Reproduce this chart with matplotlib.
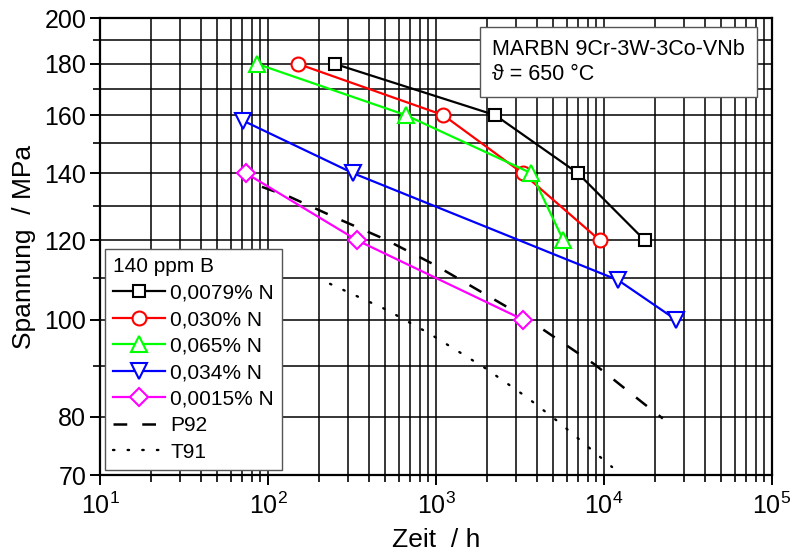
import numpy as np
import matplotlib
matplotlib.use("Agg")
import matplotlib.pyplot as plt
from matplotlib.ticker import FixedLocator, NullFormatter, FixedFormatter

plt.rcParams['font.family'] = ['Liberation Sans', 'DejaVu Sans']
plt.rcParams['mathtext.fontset'] = 'custom'
plt.rcParams['mathtext.rm'] = 'Liberation Sans'

# stress levels (MPa) and times to rupture (h)
x_0079 = [250, 2250, 7000, 17500]
y_0079 = [180, 160, 140, 120]
x_030 = [151, 1105, 3280, 9460]
y_030 = [180, 160, 140, 120]
x_065 = [86, 661, 3700, 5730]
y_065 = [180, 160, 140, 120]
x_034 = [71, 322, 12160, 26840]
y_034 = [158, 140, 109.5, 100]
x_0015 = [74, 340, 3310]
y_0015 = [140, 120, 100]

# reference curves
x_p92 = [92, 135, 256, 497, 986, 3470, 8840, 17060, 22400]
y_p92 = [135.7, 132.6, 126.3, 120.3, 113.4, 100.3, 90.2, 82.6, 79.7]
x_t91 = [234, 509, 921, 1960, 3470, 5350, 11170]
y_t91 = [108.6, 102.3, 96.8, 89.5, 83.7, 79.1, 71.3]

labels = ['0,0079% N', '0,030% N', '0,065% N', '0,034% N', '0,0015% N']
colors = ['#000000', '#ff0000', '#00ff00', '#0000ff', '#ff00ff']
markers = ['s', 'o', '^', 'v', 'D']
msizes = [9, 10, 11, 11, 9]

y_major = [70, 80, 100, 120, 140, 160, 180, 200]
y_minor = [90, 110, 130, 150, 170, 190]

fig = plt.figure(figsize=(7.9, 5.58), dpi=100)
ax = fig.add_axes([0.1266, 0.1487, 0.8506, 0.819])
ax.set_xscale('log')
ax.set_yscale('log')
ax.set_xlim(10, 1e5)
ax.set_ylim(70, 200)

series = [(x_0079, y_0079), (x_030, y_030), (x_065, y_065),
          (x_034, y_034), (x_0015, y_0015)]
handles = []
for (xs, ys), lab, c, m, ms in zip(series, labels, colors, markers, msizes):
    h, = ax.plot(xs, ys, color=c, lw=1.6, marker=m, ms=ms, mfc='white',
                 mec=c, mew=1.5, label=lab, zorder=4)
    handles.append(h)

h, = ax.plot(x_p92, y_p92, color='black', lw=1.8, dashes=(5.5, 6.0),
             label='P92', zorder=3)
handles.append(h)
h, = ax.plot(x_t91, y_t91, color='black', lw=1.7, dashes=(0.6, 5.6),
             dash_capstyle='round', label='T91', zorder=3)
handles.append(h)

ax.yaxis.set_major_locator(FixedLocator(y_major))
ax.yaxis.set_major_formatter(FixedFormatter([str(v) for v in y_major]))
ax.yaxis.set_minor_locator(FixedLocator(y_minor))
ax.yaxis.set_minor_formatter(NullFormatter())
ax.set_xticks([10, 100, 1000, 10000, 100000])
ax.set_xticklabels([r'$\mathregular{10^{%d}}$' % k for k in range(1, 6)])

ax.grid(True, which='both', color='black', lw=1.1)
ax.set_axisbelow(True)
for s in ax.spines.values():
    s.set_linewidth(1.6)

ax.tick_params(which='major', direction='out', length=7, width=1.4,
               labelsize=18, pad=3)
ax.tick_params(which='minor', direction='out', length=5, width=1.2)
ax.tick_params(axis='x', which='major', pad=6)

ax.set_xlabel('Zeit  / h', fontsize=19, labelpad=6)
ax.set_ylabel('Spannung  / MPa', fontsize=19, labelpad=6)

leg = ax.legend(handles=handles, loc='lower left',
                bbox_to_anchor=(0.007, 0.011), borderaxespad=0,
                title='140 ppm B', title_fontsize=15, alignment='left',
                fontsize=15, fancybox=False, framealpha=1,
                edgecolor='#555555', handlelength=2.5, handletextpad=0.25,
                labelspacing=0.36, borderpad=0.4)
leg.get_frame().set_linewidth(1.0)
leg.set_zorder(6)

ax.text(0.5833, 0.955, 'MARBN 9Cr-3W-3Co-VNb\n\u03d1 = 650 \u00b0C',
        transform=ax.transAxes, fontsize=15.5, va='top', ha='left',
        linespacing=1.3, zorder=6,
        bbox=dict(boxstyle='square,pad=0.55', fc='white', ec='#555555', lw=1.0))

fig.savefig('out.png', dpi=100)
